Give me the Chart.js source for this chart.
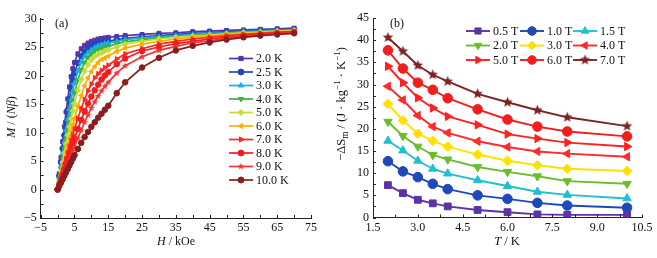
<!DOCTYPE html>
<html><head><meta charset="utf-8">
<script src="https://cdn.jsdelivr.net/npm/chart.js@4.4.0/dist/chart.umd.min.js"></script>
<style>
html,body{margin:0;padding:0;background:#fff;width:657px;height:258px;overflow:hidden}
#a{position:absolute;left:0;top:0}
#b{position:absolute;left:330px;top:0}
</style></head><body>
<canvas id="a" width="330" height="258"></canvas>
<canvas id="b" width="327" height="258"></canvas>
<script>
// ---------- Panel (a): M vs H ----------
const fieldH = [0,0.5,1,1.5,2,2.5,3,3.5,4,4.5,5,6,7,8,9,10,11,12,13,14,15,17.5,20,25,30,35,40,45,50,55,60,65,70];
const tempLabels = ['2.0 K','2.5 K','3.0 K','4.0 K','5.0 K','6.0 K','7.0 K','8.0 K','9.0 K','10.0 K'];
const m2_0 = [0,2.8,5.6,8.4,11.0,13.6,15.9,18.0,19.8,21.2,22.3,23.8,24.7,25.3,25.7,26.0,26.2,26.4,26.5,26.6,26.7,26.85,27.0,27.2,27.4,27.5,27.7,27.8,27.9,28.0,28.1,28.2,28.3];
const m2_5 = [0,2.4,4.8,7.2,9.5,11.8,13.9,15.8,17.6,19.2,20.4,22.2,23.4,24.2,24.8,25.2,25.5,25.7,25.8,25.9,26.0,26.3,26.5,26.8,27.0,27.2,27.4,27.5,27.7,27.8,27.9,28.0,28.1];
const m3_0 = [0,2.1,4.2,6.3,8.4,10.4,12.3,14.1,15.8,17.3,18.7,20.8,22.3,23.3,24.0,24.5,24.9,25.2,25.4,25.6,25.7,26.0,26.3,26.6,26.8,27.0,27.2,27.4,27.5,27.7,27.8,27.9,28.0];
const m4_0 = [0,1.8,3.6,5.4,7.2,9.0,10.7,12.4,14.0,15.5,16.9,19.2,21.0,22.3,23.2,23.8,24.3,24.6,24.8,25.0,25.1,25.6,25.9,26.3,26.6,26.8,27.0,27.2,27.4,27.5,27.7,27.8,27.9];
const m5_0 = [0,1.6,3.2,4.8,6.4,8.0,9.5,11.0,12.4,13.8,15.1,17.4,19.3,20.8,21.9,22.7,23.3,23.7,24.0,24.3,24.5,25.0,25.5,26.0,26.4,26.7,26.9,27.1,27.3,27.5,27.6,27.8,27.9];
const m6_0 = [0,1.3,2.6,3.9,5.2,6.5,7.8,9.0,10.2,11.4,12.5,14.6,16.5,18.2,19.6,20.7,21.6,22.3,22.8,23.1,23.4,24.2,24.8,25.5,26.0,26.4,26.7,27.0,27.2,27.4,27.5,27.7,27.8];
const m7_0 = [0,1.1,2.2,3.3,4.4,5.4,6.5,7.6,8.6,9.6,10.6,12.5,14.2,15.8,17.3,18.5,19.6,20.3,20.9,21.4,21.8,22.9,23.8,24.7,25.5,26.0,26.4,26.7,27.0,27.2,27.4,27.6,27.7];
const m8_0 = [0,0.9,1.8,2.7,3.6,4.5,5.4,6.3,7.2,8.1,8.9,10.6,12.2,13.7,15.1,16.3,17.4,18.4,19.3,20.0,20.6,22.0,23.0,24.3,25.0,25.6,26.0,26.4,26.7,27.0,27.2,27.4,27.6];
const m9_0 = [0,0.75,1.5,2.25,3.0,3.75,4.5,5.3,6.0,6.8,7.5,9.0,10.4,11.8,13.1,14.3,15.4,16.4,17.3,18.1,18.8,20.4,21.7,23.3,24.4,25.1,25.7,26.1,26.5,26.8,27.1,27.3,27.5];
const m10_0 = [0,0.6,1.2,1.8,2.4,3.0,3.6,4.2,4.8,5.4,6.0,7.1,8.2,9.2,10.1,11.0,11.8,12.6,13.3,14.0,14.7,16.9,18.8,21.4,23.1,24.4,25.2,25.8,26.3,26.7,27.0,27.2,27.4];
const xTicksA = {min:-5, max:75, step:10};
const yTicksA = {min:-5, max:30, step:5};

// ---------- Panel (b): -dS vs T ----------
const tempT = [2,2.5,3,3.5,4,5,6,7,8,10];
const fieldLabels = ['0.5 T','1.0 T','1.5 T','2.0 T','3.0 T','4.0 T','5.0 T','6.0 T','7.0 T'];
const s0_5 = [7.3,5.5,4.0,3.2,2.5,1.7,1.2,0.7,0.6,0.6];
const s1_0 = [12.7,10.4,9.1,7.6,6.4,5.0,4.2,3.3,2.7,2.2];
const s1_5 = [17.3,15.1,12.8,11.0,9.9,8.4,7.1,5.8,5.1,4.3];
const s2_0 = [21.6,18.4,16.0,14.1,13.1,11.4,10.3,9.3,8.2,7.6];
const s3_0 = [25.6,21.9,18.9,17.3,16.0,14.2,12.8,11.8,11.0,10.5];
const s4_0 = [29.6,26.5,23.0,20.5,19.1,17.2,15.9,14.9,14.4,13.7];
const s5_0 = [34.1,30.4,27.0,24.7,22.8,20.9,18.8,17.8,16.9,16.0];
const s6_0 = [37.7,33.6,30.4,28.8,26.9,24.4,22.1,20.5,19.4,18.3];
const s7_0 = [40.6,37.5,34.3,32.2,30.7,27.9,26.0,24.2,22.6,20.6];
const xTicksB = {min:1.5, max:10.5, step:1.5};
const yTicksB = {min:0, max:45, step:5};

const FAM = '"Liberation Serif","Times New Roman",serif';

function starImg(color, r){
  const s = Math.ceil(r*2+2);
  const c = document.createElement('canvas'); c.width = s; c.height = s;
  const g = c.getContext('2d'); g.fillStyle = color; g.beginPath();
  for(let i=0;i<10;i++){const a=-Math.PI/2+i*Math.PI/5; const rr=i%2?r*0.45:r; g.lineTo(s/2+rr*Math.cos(a), s/2+rr*Math.sin(a));}
  g.closePath(); g.fill(); return c;
}

const inwardTicks = {
  id:'inwardTicks',
  afterDraw(chart, args, o){
    const ctx = chart.ctx, a = chart.chartArea, xs = chart.scales.x, ys = chart.scales.y;
    ctx.save(); ctx.strokeStyle = '#222'; ctx.lineWidth = 1;
    for(let v = xs.min; v <= xs.max + 1e-9; v += o.xMinor){
      const p = Math.round(xs.getPixelForValue(v)) + 0.5;
      ctx.beginPath(); ctx.moveTo(p, a.bottom); ctx.lineTo(p, a.bottom - o.len); ctx.stroke();
    }
    for(let v = ys.min; v <= ys.max + 1e-9; v += o.yMinor){
      const p = Math.round(ys.getPixelForValue(v)) + 0.5;
      ctx.beginPath(); ctx.moveTo(a.left, p); ctx.lineTo(a.left + o.len, p); ctx.stroke();
    }
    ctx.restore();
  }
};

function drawRuns(ctx, runs, cx, cy, rot, size){
  ctx.save(); ctx.translate(cx, cy); ctx.rotate(rot);
  ctx.textBaseline = 'middle'; ctx.textAlign = 'left'; ctx.fillStyle = '#111';
  let total = 0;
  const fonts = runs.map(r => (r.i ? 'italic ' : '') + (size*(r.sc||1)) + 'px ' + FAM);
  runs.forEach((r,i)=>{ctx.font = fonts[i]; r.w = ctx.measureText(r.t).width; total += r.w;});
  let x = -total/2;
  runs.forEach((r,i)=>{ctx.font = fonts[i]; ctx.fillText(r.t, x, (r.dy||0)*size); x += r.w;});
  ctx.restore();
}

const decor = {
  id:'decor',
  afterDraw(chart, args, o){
    const ctx = chart.ctx;
    drawRuns(ctx, o.xTitle.runs, o.xTitle.x, o.xTitle.y, 0, o.size);
    drawRuns(ctx, o.yTitle.runs, o.yTitle.x, o.yTitle.y, -Math.PI/2, o.size);
    ctx.save(); ctx.font = '12px ' + FAM; ctx.fillStyle = '#111'; ctx.textBaseline = 'middle'; ctx.textAlign = 'left';
    ctx.fillText(o.panel.t, o.panel.x, o.panel.y);
    // legend
    chart.data.datasets.forEach((ds, i) => {
      const p = o.legend.pos(i);
      ctx.strokeStyle = ds.borderColor; ctx.lineWidth = ds.borderWidth;
      ctx.beginPath(); ctx.moveTo(p.x, p.y); ctx.lineTo(p.x + o.legend.len, p.y); ctx.stroke();
      ctx.fillStyle = ds.pointBackgroundColor; ctx.strokeStyle = ds.pointBorderColor; ctx.lineWidth = 1;
      Chart.helpers.drawPoint(ctx, {pointStyle: ds.pointStyle, rotation: ds.pointRotation || 0, radius: o.legend.r, borderWidth: 1}, p.x + o.legend.len/2, p.y);
      ctx.fillStyle = '#111'; ctx.font = '12px ' + FAM;
      ctx.fillText(ds.label, p.x + o.legend.len + 3, p.y + 0.5);
    });
    ctx.restore();
  }
};

function fmt(v){ return String(v).replace('-', '\u2212'); }

function baseScales(xt, yt, xFmt, yAxisW, xAxisH){
  const tf = {family: FAM, size: 12};
  return {
    x: {type:'linear', min:xt.min, max:xt.max,
        ticks:{stepSize:xt.step, font:tf, color:'#111', padding:3, maxRotation:0, autoSkip:false, callback:xFmt},
        grid:{display:false, drawTicks:false}, border:{display:true, color:'#222', width:1},
        afterFit(s){ s.height = xAxisH; }},
    y: {type:'linear', min:yt.min, max:yt.max,
        ticks:{stepSize:yt.step, font:tf, color:'#111', padding:4, autoSkip:false, callback:v=>fmt(v)},
        grid:{display:false, drawTicks:false}, border:{display:true, color:'#222', width:1},
        afterFit(s){ s.width = yAxisW; }}
  };
}

// ---- chart a ----
const seriesA = [m2_0,m2_5,m3_0,m4_0,m5_0,m6_0,m7_0,m8_0,m9_0,m10_0];
const colorsA = ['#5b33a6','#2148b8','#1aaef0','#3bb23b','#c5dd3a','#ffae00','#ff2626','#f21c1c','#f03434','#8a1e1e'];
const stylesA = ['rect','circle','triangle','triangle','rectRot','triangle','triangle','circle',starImg('#f03434',3.6),'circle'];
const rotA = [0,0,0,180,0,270,90,0,0,0];
new Chart(document.getElementById('a'), {
  type:'line',
  data:{datasets: seriesA.map((s,i)=>({
    label: tempLabels[i],
    data: fieldH.map((h,k)=>({x:h, y:s[k]})),
    borderColor: colorsA[i], backgroundColor: colorsA[i],
    pointBackgroundColor: colorsA[i], pointBorderColor: colorsA[i],
    pointStyle: stylesA[i], pointRotation: rotA[i],
    borderWidth: 1.7, pointRadius: 2.8, pointBorderWidth: 1, tension: 0
  })).reverse()},
  options:{
    animation:false, responsive:false, devicePixelRatio:1,
    layout:{padding:{left:0, top:18.5, right:19, bottom:0}},
    plugins:{legend:{display:false}, tooltip:{enabled:false},
      inwardTicks:{xMinor:5, yMinor:2.5, len:3},
      decor:{size:12,
        xTitle:{x:176, y:242, runs:[{t:'H',i:true},{t:' / kOe'}]},
        yTitle:{x:12, y:117, runs:[{t:'M',i:true},{t:' / ('},{t:'Nβ',i:true},{t:')'}]},
        panel:{t:'(a)', x:55, y:24},
        legend:{len:24, r:3, pos:i=>({x:229, y:58.5 + 13.5*(9-i)})}
      }},
    scales: baseScales(xTicksA, yTicksA, v=>fmt(v), 40.7, 40)
  },
  plugins:[inwardTicks, decor]
});

// ---- chart b ----
const seriesB = [s0_5,s1_0,s1_5,s2_0,s3_0,s4_0,s5_0,s6_0,s7_0];
const colorsB = ['#5b33a6','#2148b8','#1fc0d0','#6bbd2c','#ffe100','#ff2a2a','#ff2020','#f21e1e','#7b2424'];
const stylesB = ['rect','circle','triangle','triangle','rectRot','triangle','triangle','circle',starImg('#7b2424',5.5)];
const rotB = [0,0,0,180,0,270,90,0,0];
const colX = [136,190,243], rowY = [31,45.5,60];
new Chart(document.getElementById('b'), {
  type:'line',
  data:{datasets: seriesB.map((s,i)=>({
    label: fieldLabels[i],
    data: tempT.map((t,k)=>({x:t, y:s[k]})),
    borderColor: colorsB[i], backgroundColor: colorsB[i],
    pointBackgroundColor: colorsB[i], pointBorderColor: colorsB[i],
    pointStyle: stylesB[i], pointRotation: rotB[i],
    borderWidth: 1.9, pointRadius: 4.8, pointBorderWidth: 1, tension: 0
  }))},
  options:{
    animation:false, responsive:false, devicePixelRatio:1,
    layout:{padding:{left:0, top:18, right:15, bottom:0}},
    plugins:{legend:{display:false}, tooltip:{enabled:false},
      inwardTicks:{xMinor:0.75, yMinor:2.5, len:3},
      decor:{size:12.5,
        xTitle:{x:177, y:242, runs:[{t:'T',i:true},{t:' / K'}]},
        yTitle:{x:12, y:104, runs:[{t:'\u2212ΔS'},{t:'m',sc:0.75,dy:0.3},{t:' / (J · kg'},{t:'\u22121',sc:0.72,dy:-0.35},{t:' · K'},{t:'\u22121',sc:0.72,dy:-0.35},{t:')'}]},
        panel:{t:'(b)', x:60, y:24},
        legend:{len:24, r:4.3, pos:i=>({x:colX[i%3], y:rowY[Math.floor(i/3)]})}
      }},
    scales: baseScales(xTicksB, yTicksB, v=>Number(v).toFixed(1), 43, 40.5)
  },
  plugins:[inwardTicks, decor]
});
</script>
</body></html>
